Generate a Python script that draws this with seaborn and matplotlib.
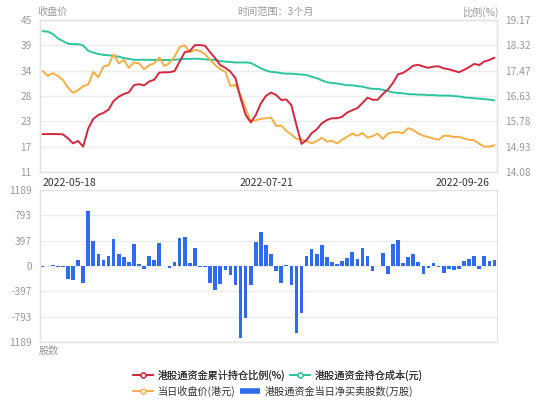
"""
港股通资金持仓 — 比例/成本/收盘价 + 每日净买卖股数
"""
import numpy as np
import matplotlib
matplotlib.use('Agg')
import matplotlib.pyplot as plt
from matplotlib.lines import Line2D
import seaborn as sns

# 累计持仓比例(%) — 右轴
ratio = [15.35, 15.35, 15.35, 15.35, 15.34, 15.21, 15.04, 15.12, 14.93, 15.54,
         15.86, 15.99, 16.06, 16.17, 16.46, 16.60, 16.69, 16.75, 16.99, 17.02,
         16.98, 17.11, 17.17, 17.41, 17.42, 17.42, 17.46, 17.78, 18.09, 18.13,
         18.33, 18.33, 18.31, 18.09, 17.89, 17.66, 17.57, 17.44, 17.22, 16.55,
         15.99, 15.74, 15.99, 16.38, 16.63, 16.74, 16.66, 16.49, 16.51, 16.32,
         15.65, 15.02, 15.15, 15.38, 15.51, 15.71, 15.82, 15.88, 15.88, 15.93,
         16.07, 16.15, 16.22, 16.39, 16.57, 16.50, 16.50, 16.69, 16.84, 17.06,
         17.35, 17.40, 17.51, 17.64, 17.67, 17.61, 17.57, 17.61, 17.62, 17.55,
         17.52, 17.47, 17.42, 17.50, 17.59, 17.70, 17.66, 17.78, 17.83, 17.91]

# 持仓成本(元) — 左轴
cost = [42.5, 42.4, 41.9, 40.9, 40.3, 39.7, 39.6, 39.6, 39.3, 38.1,
        37.7, 37.4, 37.2, 37.1, 37.0, 36.8, 36.5, 36.3, 36.1, 36.1,
        36.1, 36.1, 36.05, 36.05, 36.05, 36.05, 36.1, 36.2, 36.3, 36.3,
        36.35, 36.3, 36.2, 36.1, 36.1, 35.8, 35.7, 35.6, 35.5, 35.5,
        35.5, 35.4, 34.8, 34.2, 33.7, 33.4, 33.3, 33.1, 33.0, 33.0,
        32.9, 32.8, 32.7, 32.3, 32.0, 31.5, 31.1, 30.9, 30.8, 30.6,
        30.4, 30.4, 30.2, 30.1, 29.8, 29.6, 29.6, 29.4, 29.1, 28.8,
        28.7, 28.6, 28.4, 28.4, 28.3, 28.3, 28.2, 28.2, 28.1, 28.1,
        28.1, 28.0, 27.9, 27.7, 27.6, 27.5, 27.4, 27.3, 27.2, 27.0]

# 当日收盘价(港元) — 左轴
close = [33.6, 32.5, 33.1, 32.5, 31.6, 29.9, 28.7, 29.3, 30.2, 30.6,
         33.4, 32.2, 34.6, 34.9, 37.3, 35.3, 36.1, 34.3, 35.5, 35.3,
         34.0, 34.9, 35.3, 36.6, 34.7, 35.4, 36.8, 39.0, 39.3, 37.8,
         38.3, 38.1, 37.3, 36.1, 34.9, 34.0, 33.4, 30.2, 30.5, 28.2,
         25.2, 22.3, 22.6, 22.9, 23.0, 23.2, 21.3, 21.4, 20.2, 19.4,
         18.4, 18.2, 17.9, 17.4, 17.9, 18.7, 17.8, 18.0, 17.4, 18.2,
         18.9, 19.6, 19.1, 19.7, 18.7, 19.0, 19.6, 18.4, 19.6, 19.9,
         19.9, 19.7, 20.8, 20.4, 19.6, 19.1, 18.8, 18.5, 18.2, 19.1,
         19.1, 18.8, 18.9, 18.5, 18.2, 18.1, 17.3, 16.7, 16.7, 17.0]

# 当日净买卖股数(万股)
net_buy = [-8, 3, 12, -10, -12, -196, -222, 95, -259, 862,
           397, 180, 100, 159, 423, 185, 143, 63, 344, 26,
           -48, 164, 90, 360, 3, -37, 69, 434, 455, 53,
           275, -10, -10, -265, -381, -275, -63, -143, -302, -1127,
           -815, -291, 376, 529, 323, 185, -85, -265, 16, -291,
           -1042, -735, 164, 265, 180, 323, 148, 69, 32, 74,
           127, 212, 111, 280, 153, -79, 5, 201, -132, 349,
           402, 48, 143, 180, 69, -132, -26, 53, -10, -116,
           -42, -63, -42, 85, 116, 153, -48, 153, 74, 95]

date_labels = ['2022-05-18', '2022-07-21', '2022-09-26']
date_pos = [0, 44, 88]

left_ticks = ['11', '17', '23', '28', '34', '39', '45']
right_ticks = ['14.08', '14.93', '15.78', '16.63', '17.47', '18.32', '19.17']
bar_ticks = ['1189', '-793', '-397', '0', '397', '793', '1189']

RED = '#d2283f'
GREEN = '#2cc59d'
YELLOW = '#f3ae45'
BLUE = '#2f6bee'
GREY = '#999999'
GRID = '#ececec'

sns.set_style('white')
plt.rcParams['font.family'] = ['Noto Sans CJK SC', 'DejaVu Sans']
plt.rcParams['axes.unicode_minus'] = False

idx = np.arange(len(ratio))

fig = plt.figure(figsize=(5.5, 4.16), dpi=100)
ax1 = fig.add_axes([40 / 550, 1 - 172 / 416, 457 / 550, 152 / 416])
ax2 = ax1.twinx()
ax3 = fig.add_axes([40 / 550, 1 - 342 / 416, 457 / 550, 152 / 416])

# 上图：成本 + 收盘价（左轴），比例（右轴）
sns.lineplot(x=idx, y=cost, ax=ax1, color=GREEN, linewidth=1.4)
sns.lineplot(x=idx, y=close, ax=ax1, color=YELLOW, linewidth=1.4)
sns.lineplot(x=idx, y=ratio, ax=ax2, color=RED, linewidth=1.4)

ax1.set_xlim(-0.5, len(idx) - 0.5)
ax1.set_ylim(11, 45)
ax1.set_yticks(np.linspace(11, 45, 7))
ax1.set_yticklabels(left_ticks)
ax2.set_ylim(14.08, 19.17)
ax2.set_yticks(np.linspace(14.08, 19.17, 7))
ax2.set_yticklabels(right_ticks)

ax1.set_xticks(date_pos)
ax1.set_xticklabels(date_labels)
xl = ax1.get_xticklabels()
xl[0].set_ha('left')
xl[-1].set_ha('right')

ax1.grid(axis='y', color=GRID, linewidth=1)
ax1.grid(axis='x', visible=False)
ax1.tick_params(axis='x', length=0, pad=4, labelsize=7.5, labelcolor='#333333')
ax1.tick_params(axis='y', length=0, pad=6, labelsize=7.3, labelcolor=GREY)
ax2.tick_params(axis='y', length=0, pad=6, labelsize=7.3, labelcolor=GREY)
for a in (ax1, ax2):
    a.set_xlabel('')
    a.set_ylabel('')
    for s in a.spines.values():
        s.set_color('#e3e3e3')
        s.set_linewidth(0.9)

# 下图：净买卖股数
sns.barplot(x=idx, y=net_buy, ax=ax3, color=BLUE, width=0.72, saturation=1,
            linewidth=0, edgecolor=BLUE)
ax3.set_xlim(-0.5, len(idx) - 0.5)
ax3.set_ylim(-1189, 1189)
ax3.set_yticks(np.linspace(-1189, 1189, 7))
ax3.set_yticklabels(bar_ticks)
ax3.set_xticks([])
ax3.set_xlabel('')
ax3.set_ylabel('')
ax3.set_axisbelow(True)
ax3.grid(axis='y', color=GRID, linewidth=1)
ax3.tick_params(axis='y', length=0, pad=6, labelsize=7.3, labelcolor=GREY)
for s in ax3.spines.values():
    s.set_color('#e3e3e3')
    s.set_linewidth(0.9)

# 轴标题等文字
fig.text(37 / 550, 1 - 12 / 416, '收盘价', ha='left', va='center', fontsize=7.3, color=GREY)
fig.text(275 / 550, 1 - 12 / 416, '时间范围：3个月', ha='center', va='center', fontsize=7.3, color=GREY)
fig.text(498 / 550, 1 - 12 / 416, '比例(%)', ha='right', va='center', fontsize=7.3, color=GREY)
fig.text(39 / 550, 1 - 351 / 416, '股数', ha='left', va='center', fontsize=7.3, color=GREY)

# 图例（两行，流式排列）
def mk(c):
    return Line2D([], [], color=c, linewidth=1.4, marker='o', markersize=3.5,
                  markerfacecolor='white', markeredgecolor=c, markeredgewidth=1)

row1 = [mk(RED), mk(GREEN)]
row2 = [mk(YELLOW), Line2D([], [], color=BLUE, linewidth=4, solid_capstyle='butt')]
leg_kw = dict(loc='center left', frameon=False, ncol=2, borderpad=0, borderaxespad=0,
              handlelength=2.0, handletextpad=0.45, columnspacing=0.45,
              prop={'size': 7.3}, labelcolor='#333333')
leg1 = fig.legend(row1, ['港股通资金累计持仓比例(%)', '港股通资金持仓成本(元)'],
                  bbox_to_anchor=(133 / 550, 1 - 375 / 416), **leg_kw)
fig.legend(row2, ['当日收盘价(港元)', '港股通资金当日净买卖股数(万股)'],
           bbox_to_anchor=(133 / 550, 1 - 391 / 416), **leg_kw)
fig.add_artist(leg1)

fig.savefig('out.png', dpi=100)
plt.close(fig)
